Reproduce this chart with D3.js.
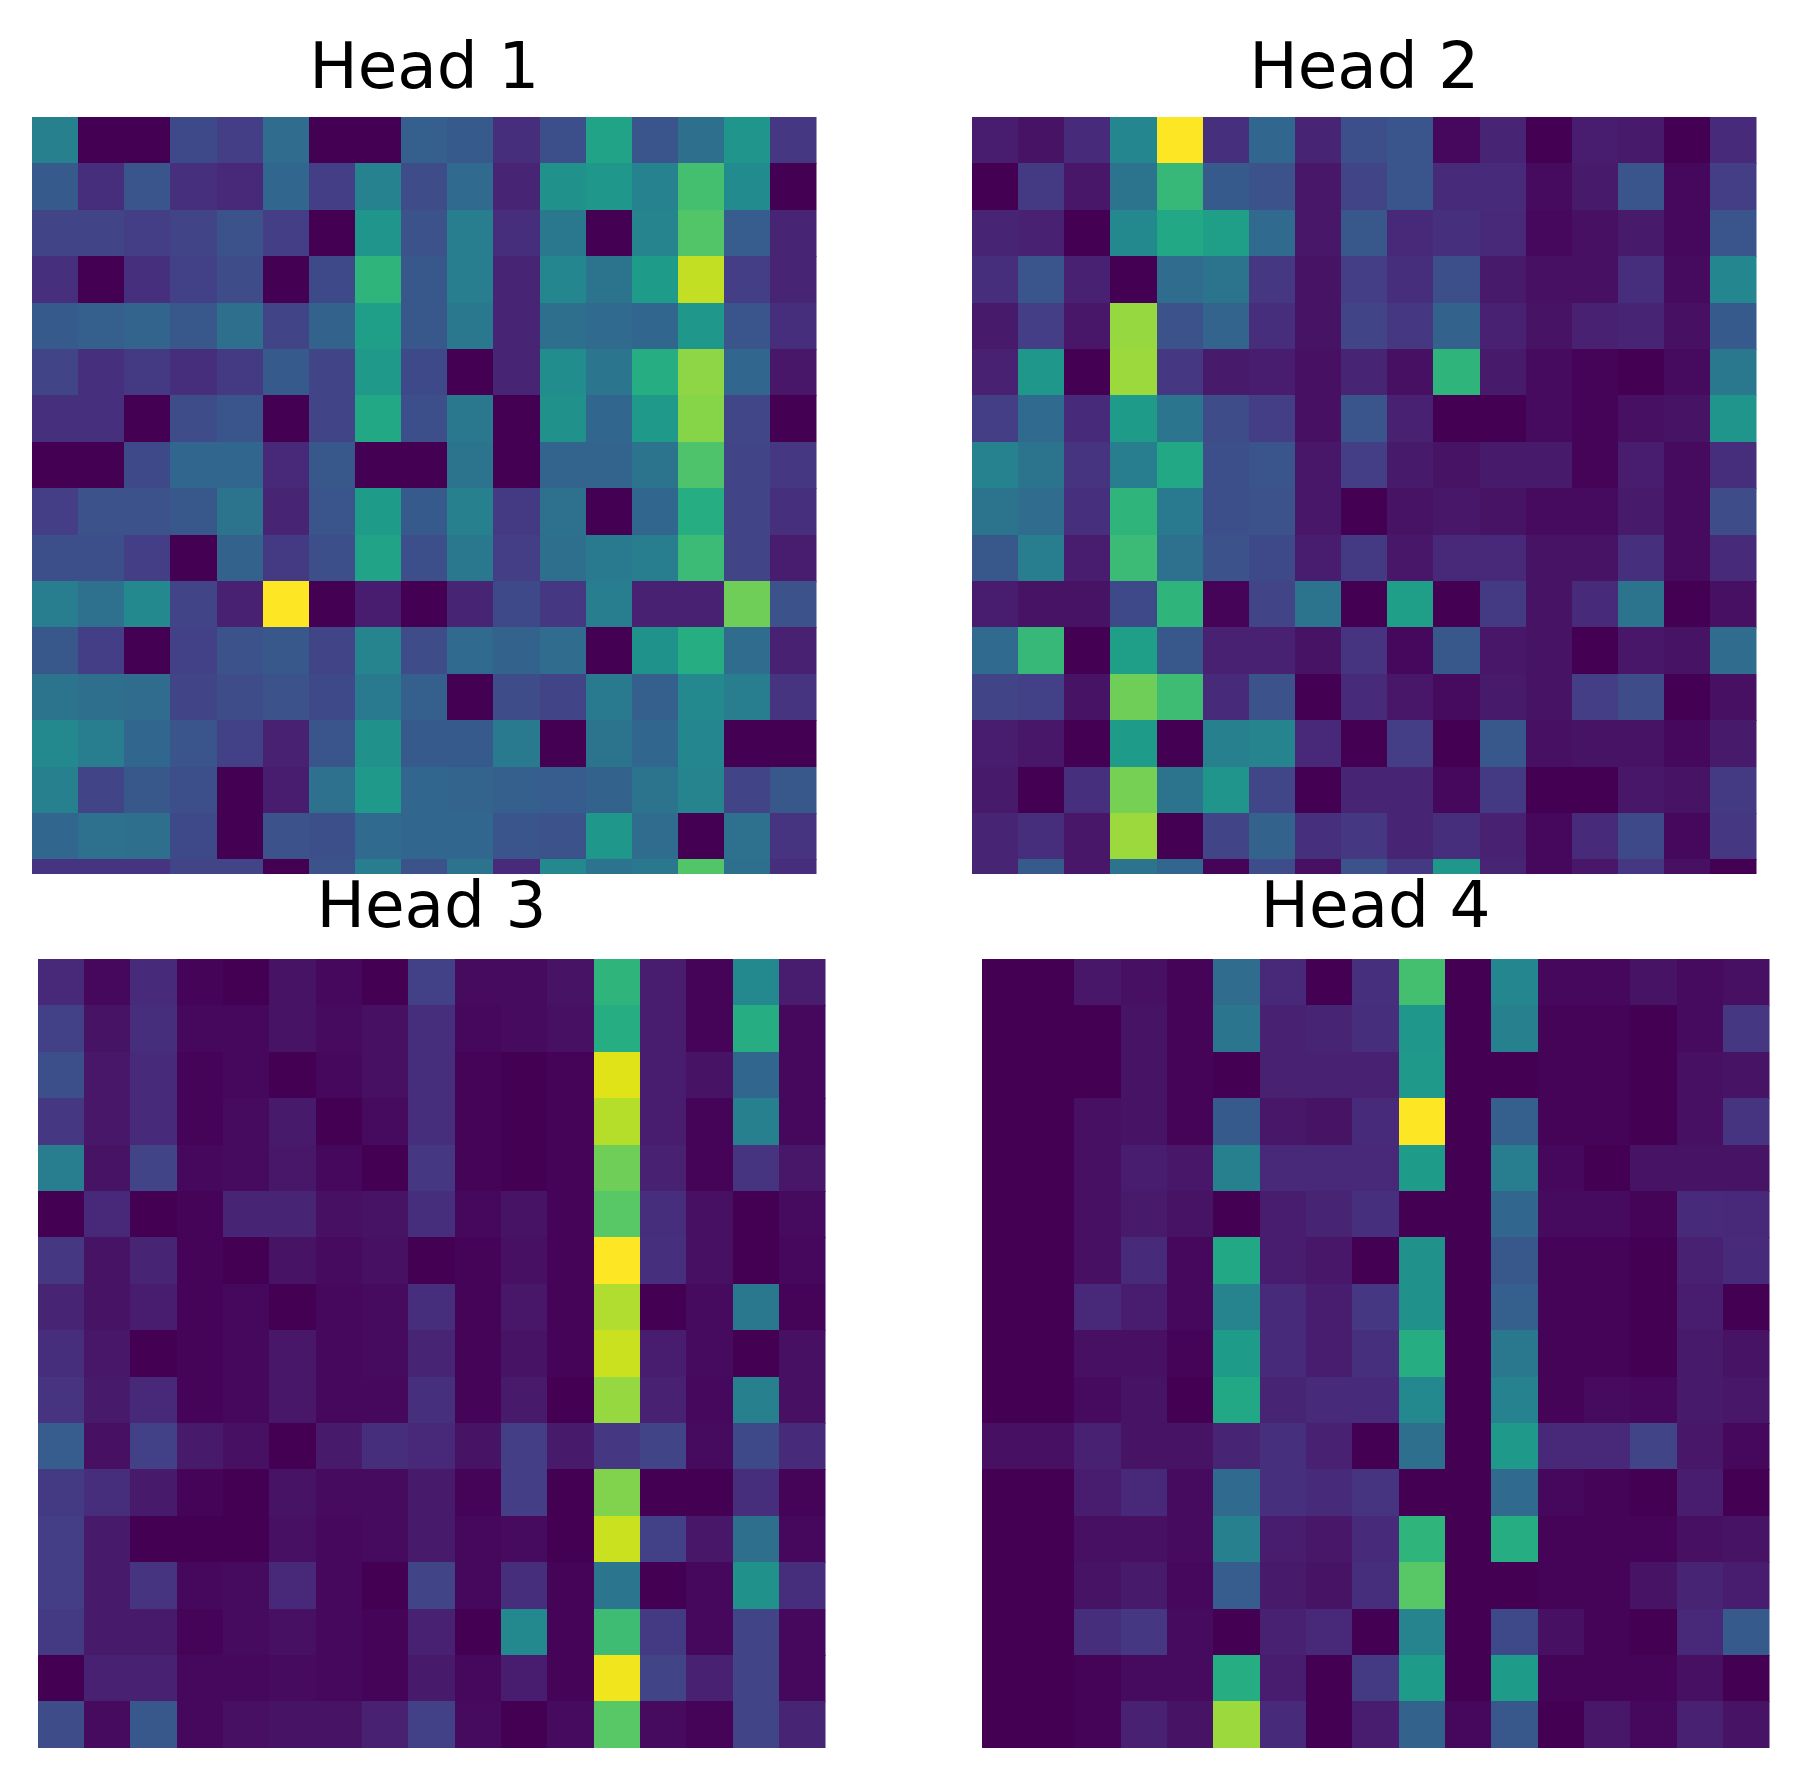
<!DOCTYPE html>
<html>
<head>
<meta charset="utf-8">
<script src="https://cdn.jsdelivr.net/npm/d3@7"></script>
<style>
  html, body { margin: 0; padding: 0; background: #fff; }
  svg { display: block; filter: blur(0.7px); }
</style>
</head>
<body>
<svg></svg>
<script>
const titles = ['Head 1', 'Head 2', 'Head 3', 'Head 4'];

const head1 = [
  [.43,0,0,.22,.18,.35,0,0,.30,.28,.13,.24,.58,.26,.36,.52,.16],
  [.28,.13,.26,.14,.11,.33,.18,.44,.23,.34,.10,.50,.53,.44,.70,.48,0],
  [.20,.20,.18,.20,.25,.18,0,.52,.25,.42,.13,.40,0,.45,.73,.29,.10],
  [.14,0,.14,.19,.23,0,.22,.65,.27,.42,.10,.46,.38,.55,.91,.18,.10],
  [.28,.30,.32,.27,.36,.20,.31,.56,.27,.40,.10,.36,.34,.33,.53,.26,.13],
  [.20,.14,.17,.13,.17,.28,.20,.54,.22,0,.10,.49,.39,.62,.83,.33,.06],
  [.14,.14,0,.23,.26,0,.20,.60,.24,.40,0,.50,.33,.54,.82,.21,0],
  [0,0,.22,.33,.33,.11,.27,0,0,.38,0,.32,.32,.38,.72,.20,.16],
  [.18,.25,.25,.27,.38,.10,.26,.55,.28,.43,.17,.37,0,.33,.62,.20,.14],
  [.24,.24,.18,0,.31,.17,.24,.58,.24,.40,.18,.36,.41,.42,.68,.20,.08],
  [.42,.37,.47,.20,.09,1,0,.08,0,.10,.22,.16,.42,.09,.09,.78,.25],
  [.27,.18,0,.19,.25,.27,.20,.45,.23,.34,.31,.35,0,.51,.62,.35,.09],
  [.38,.36,.35,.20,.23,.25,.22,.41,.30,0,.23,.20,.41,.30,.47,.42,.15],
  [.47,.42,.33,.26,.19,.09,.26,.50,.28,.28,.41,0,.38,.33,.46,0,0],
  [.43,.20,.27,.24,0,.08,.37,.54,.33,.32,.30,.29,.31,.38,.45,.20,.27],
  [.33,.37,.36,.22,0,.25,.24,.34,.33,.33,.26,.25,.53,.35,0,.37,.15],
  [.15,.15,.15,.20,.20,0,.25,.42,.25,.38,.12,.47,.38,.40,.73,.36,.13]
];

const head2 = [
  [.08,.05,.12,.46,1,.14,.33,.10,.24,.26,.02,.10,0,.08,.07,0,.12],
  [0,.17,.06,.38,.67,.28,.25,.06,.20,.26,.12,.12,.03,.07,.26,.02,.18],
  [.10,.09,0,.47,.60,.56,.34,.06,.27,.11,.14,.11,.02,.04,.07,.02,.26],
  [.13,.26,.09,0,.35,.38,.16,.05,.18,.13,.24,.07,.04,.04,.13,.03,.46],
  [.07,.18,.06,.84,.25,.32,.13,.05,.20,.16,.31,.09,.05,.09,.10,.04,.28],
  [.09,.53,0,.85,.16,.07,.08,.04,.10,.04,.65,.07,.03,.01,0,.03,.40],
  [.18,.34,.12,.55,.39,.23,.18,.04,.26,.09,0,0,.03,.01,.04,.05,.52],
  [.44,.38,.15,.42,.60,.24,.26,.06,.18,.07,.05,.07,.07,.01,.08,.03,.13],
  [.38,.35,.14,.65,.41,.24,.25,.06,0,.05,.06,.05,.03,.03,.07,.03,.23],
  [.27,.42,.08,.68,.37,.25,.22,.08,.17,.06,.11,.11,.05,.05,.14,.03,.12],
  [.08,.05,.05,.22,.65,.01,.20,.38,0,.56,0,.17,.05,.12,.38,0,.04],
  [.34,.67,0,.56,.27,.09,.09,.05,.15,.02,.27,.06,.05,0,.06,.05,.35],
  [.20,.19,.05,.78,.69,.12,.25,0,.12,.06,.03,.07,.05,.18,.23,0,.04],
  [.08,.06,0,.55,0,.43,.45,.11,0,.18,0,.27,.04,.05,.05,.02,.07],
  [.07,0,.14,.79,.38,.52,.21,0,.10,.10,.02,.17,0,0,.06,.05,.17],
  [.10,.13,.06,.85,0,.20,.31,.14,.16,.10,.13,.09,.02,.12,.22,.02,.16],
  [.10,.28,.06,.38,.33,.01,.23,.04,.25,.17,.53,.10,.02,.06,.16,.04,0]
];

const head3 = [
  [.11,.02,.12,.01,0,.05,.02,0,.19,.03,.03,.05,.65,.08,.01,.47,.08],
  [.19,.05,.13,.02,.02,.05,.03,.04,.13,.02,.03,.04,.62,.08,.01,.62,.02],
  [.24,.06,.12,.01,.02,0,.02,.04,.13,.01,0,.01,.95,.08,.05,.33,.02],
  [.16,.06,.12,.01,.03,.07,0,.03,.13,.01,0,.01,.89,.08,.01,.43,.02],
  [.42,.05,.20,.02,.03,.06,.02,0,.16,.01,0,.01,.78,.09,.01,.15,.06],
  [0,.11,0,.01,.10,.10,.04,.05,.13,.02,.05,.01,.74,.13,.04,0,.03],
  [.16,.05,.10,.01,0,.05,.03,.04,0,.01,.04,.01,1,.14,.04,0,.02],
  [.10,.05,.08,.01,.02,0,.02,.03,.13,.01,.06,.01,.88,0,.03,.40,.01],
  [.13,.06,0,.01,.02,.06,.02,.03,.10,.01,.05,.01,.92,.08,.03,0,.04],
  [.15,.07,.11,.01,.02,.06,.02,.02,.14,.01,.07,0,.84,.09,.02,.43,.04],
  [.29,.04,.19,.07,.04,0,.07,.13,.11,.05,.18,.07,.16,.20,.03,.22,.12],
  [.17,.13,.07,.01,0,.05,.03,.03,.07,.01,.18,0,.81,0,0,.13,.01],
  [.18,.07,0,0,0,.04,.02,.03,.07,.02,.03,0,.92,.19,.06,.36,.02],
  [.18,.07,.15,.02,.03,.11,.02,0,.20,.02,.13,.01,.39,0,.02,.50,.13],
  [.17,.07,.07,.01,.03,.04,.02,.01,.09,0,.47,.01,.69,.17,.02,.20,.02],
  [0,.09,.09,.02,.02,.03,.02,.01,.07,.02,.08,.01,.98,.20,.09,.20,.02],
  [.23,.03,.27,.02,.04,.05,.05,.09,.19,.03,0,.03,.74,.03,.01,.20,.10]
];

const head4 = [
  [0,0,.06,.04,.01,.35,.11,0,.14,.70,0,.46,.02,.02,.05,.03,.04],
  [0,0,0,.05,.01,.39,.09,.10,.13,.53,0,.43,.01,.01,0,.03,.16],
  [0,0,0,.05,.01,0,.09,.09,.09,.54,0,0,.01,.01,0,.04,.05],
  [0,0,.04,.05,.01,.28,.06,.05,.12,1,0,.30,.01,.01,0,.04,.15],
  [0,0,.04,.08,.06,.43,.11,.11,.11,.55,0,.42,.02,0,.05,.05,.05],
  [0,0,.04,.07,.05,0,.08,.10,.14,0,0,.33,.03,.03,.01,.12,.11],
  [0,0,.04,.12,.02,.60,.08,.06,0,.50,0,.27,.01,.01,0,.09,.12],
  [0,0,.11,.08,.02,.45,.12,.08,.16,.50,0,.30,.01,.01,0,.08,0],
  [0,0,.04,.04,.01,.55,.12,.08,.14,.62,0,.40,.01,.01,0,.07,.05],
  [0,0,.03,.05,0,.60,.10,.12,.12,.47,0,.44,.01,.03,.02,.07,.06],
  [.04,.04,.09,.05,.05,.10,.14,.09,0,.36,0,.54,.11,.11,.20,.06,.02],
  [0,0,.08,.11,.03,.34,.14,.12,.15,0,0,.34,.02,.01,0,.08,0],
  [0,0,.04,.04,.03,.43,.08,.06,.12,.65,0,.62,.01,.01,.01,.04,.05],
  [0,0,.05,.07,.02,.29,.07,.05,.13,.74,0,0,.01,.01,.05,.10,.08],
  [0,0,.13,.16,.03,0,.09,.11,0,.45,0,.22,.04,.01,0,.11,.28],
  [0,0,.01,.03,.03,.62,.08,0,.17,.55,0,.55,.01,.01,.01,.04,0],
  [0,0,.01,.09,.05,.85,.12,0,.08,.31,.02,.27,0,.06,.02,.09,.05]
];

const heads = [head1, head2, head3, head4];

// panel frames, top row is cut off by the row below
const panelLeft = [32, 972, 37.5, 981.5];
const panelRight = [816.5, 1756.5, 825.5, 1769.5];
const panelTop = [117, 117, 959, 959];
const panelBottom = [874, 874, 1748, 1748];
const titleY = [88, 88, 927, 927];
const cellH = 46.4;

const svg = d3.select('svg')
              .attr('width', 1798)
              .attr('height', 1792);

const color = d3.scaleSequential(d3.interpolateViridis).domain([0, 1]);

heads.forEach((rows, p) => {
  const x = d3.scaleBand()
              .domain(d3.range(rows[0].length))
              .range([panelLeft[p], panelRight[p]]);

  const y = d3.scaleBand()
              .domain(d3.range(rows.length))
              .range([panelTop[p], panelTop[p] + rows.length * cellH]);

  svg.append('clipPath')
     .attr('id', `clip${p}`)
     .append('rect')
     .attr('x', panelLeft[p])
     .attr('y', panelTop[p])
     .attr('width', panelRight[p] - panelLeft[p])
     .attr('height', panelBottom[p] - panelTop[p]);

  const panel = svg.append('g')
                   .attr('clip-path', `url(#clip${p})`)
                   .attr('shape-rendering', 'crispEdges');

  panel.selectAll('g')
       .data(rows)
       .enter()
       .append('g')
       .selectAll('rect')
       .data((d, i) => d.map((v, j) => ({ v, i, j })))
       .enter()
       .append('rect')
       .attr('x', d => x(d.j))
       .attr('y', d => y(d.i))
       .attr('width', x.bandwidth() + 0.5)
       .attr('height', y.bandwidth() + 0.5)
       .attr('fill', d => color(d.v));

  svg.append('text')
     .attr('x', (panelLeft[p] + panelRight[p]) / 2)
     .attr('y', titleY[p])
     .attr('text-anchor', 'middle')
     .attr('font-family', '"DejaVu Sans"')
     .attr('font-size', 64.5)
     .attr('fill', '#000')
     .text(titles[p]);
});
</script>
</body>
</html>
